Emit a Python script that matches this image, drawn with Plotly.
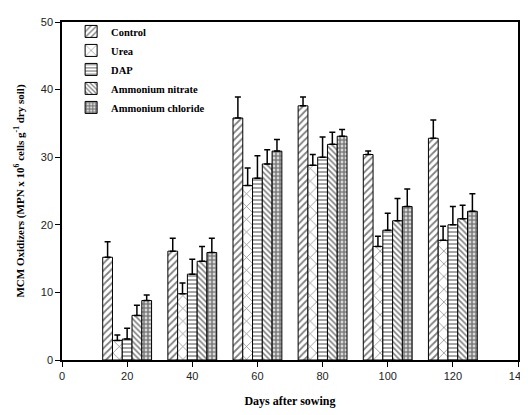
import plotly.graph_objects as go

days = [20, 40, 60, 80, 100, 120]
series = ["Control", "Urea", "DAP", "Ammonium nitrate", "Ammonium chloride"]
control = [15.2, 16.1, 35.8, 37.6, 30.4, 32.8]
control_top = [17.5, 18.0, 38.9, 38.9, 30.9, 35.5]
urea = [2.9, 9.8, 25.8, 28.8, 16.8, 17.7]
urea_top = [3.7, 11.4, 28.4, 30.4, 18.3, 19.8]
dap = [3.1, 12.7, 26.9, 30.0, 19.2, 20.0]
dap_top = [4.7, 14.9, 30.2, 33.0, 21.7, 22.7]
amm_nitrate = [6.6, 14.6, 29.0, 31.9, 20.6, 20.9]
amm_nitrate_top = [8.1, 16.8, 31.1, 33.7, 23.9, 22.9]
amm_chloride = [8.8, 15.9, 30.9, 33.1, 22.7, 22.0]
amm_chloride_top = [9.6, 18.0, 32.6, 34.1, 25.3, 24.6]

values = [control, urea, dap, amm_nitrate, amm_chloride]
tops = [control_top, urea_top, dap_top, amm_nitrate_top, amm_chloride_top]
patterns = [
    dict(shape="/", size=5, solidity=0.35, fgcolor="black", bgcolor="white"),
    dict(shape="x", size=9, solidity=0.15, fgcolor="black", bgcolor="white"),
    dict(shape="-", size=4, solidity=0.35, fgcolor="black", bgcolor="white"),
    dict(shape="\\", size=4, solidity=0.4, fgcolor="black", bgcolor="white"),
    dict(shape=".", size=4, solidity=0.75, fgcolor="black", bgcolor="white"),
]

fig = go.Figure()
for name, v, t, p in zip(series, values, tops, patterns):
    fig.add_trace(go.Bar(
        x=days, y=v, name="<b>" + name + "</b>",
        marker=dict(color="white", line=dict(color="black", width=1), pattern=p),
        error_y=dict(type="data", symmetric=False,
                     array=[a - b for a, b in zip(t, v)],
                     arrayminus=[0] * len(v),
                     color="black", thickness=1.5, width=3),
    ))

fig.update_layout(
    width=520, height=407,
    margin=dict(l=54, r=10, t=13, b=55),
    paper_bgcolor="white", plot_bgcolor="white",
    barmode="group", bargap=0.25, bargroupgap=0,
    showlegend=True,
    legend=dict(x=0.02, y=1.012, xanchor="left", yanchor="top",
                font=dict(family="Liberation Serif", size=10.5, color="black"),
                bgcolor="rgba(0,0,0,0)", tracegroupgap=0, itemwidth=30),
    xaxis=dict(range=[0, 140], tickvals=[0, 20, 40, 60, 80, 100, 120, 140],
               ticks="outside", ticklen=5, tickcolor="black", automargin=False,
               showline=True, linecolor="black", linewidth=1.5, mirror=True,
               showgrid=False, zeroline=False,
               tickfont=dict(family="Liberation Sans", size=11, color="#222"),
               title=dict(text="<b>Days after sowing</b>", standoff=16,
                          font=dict(family="Liberation Serif", size=12, color="black"))),
    yaxis=dict(range=[0, 50], tickvals=[0, 10, 20, 30, 40, 50],
               ticks="outside", ticklen=5, tickcolor="black", automargin=False,
               showline=True, linecolor="black", linewidth=1.5, mirror=True,
               showgrid=False, zeroline=False,
               tickfont=dict(family="Liberation Sans", size=11, color="#222"),
               title=dict(text="<b>MCM Oxidizers (MPN x 10<sup>6</sup> cells g<sup>-1</sup> dry soil)</b>",
                          standoff=14,
                          font=dict(family="Liberation Serif", size=11, color="black"))),
)

fig.write_html("out.html")
